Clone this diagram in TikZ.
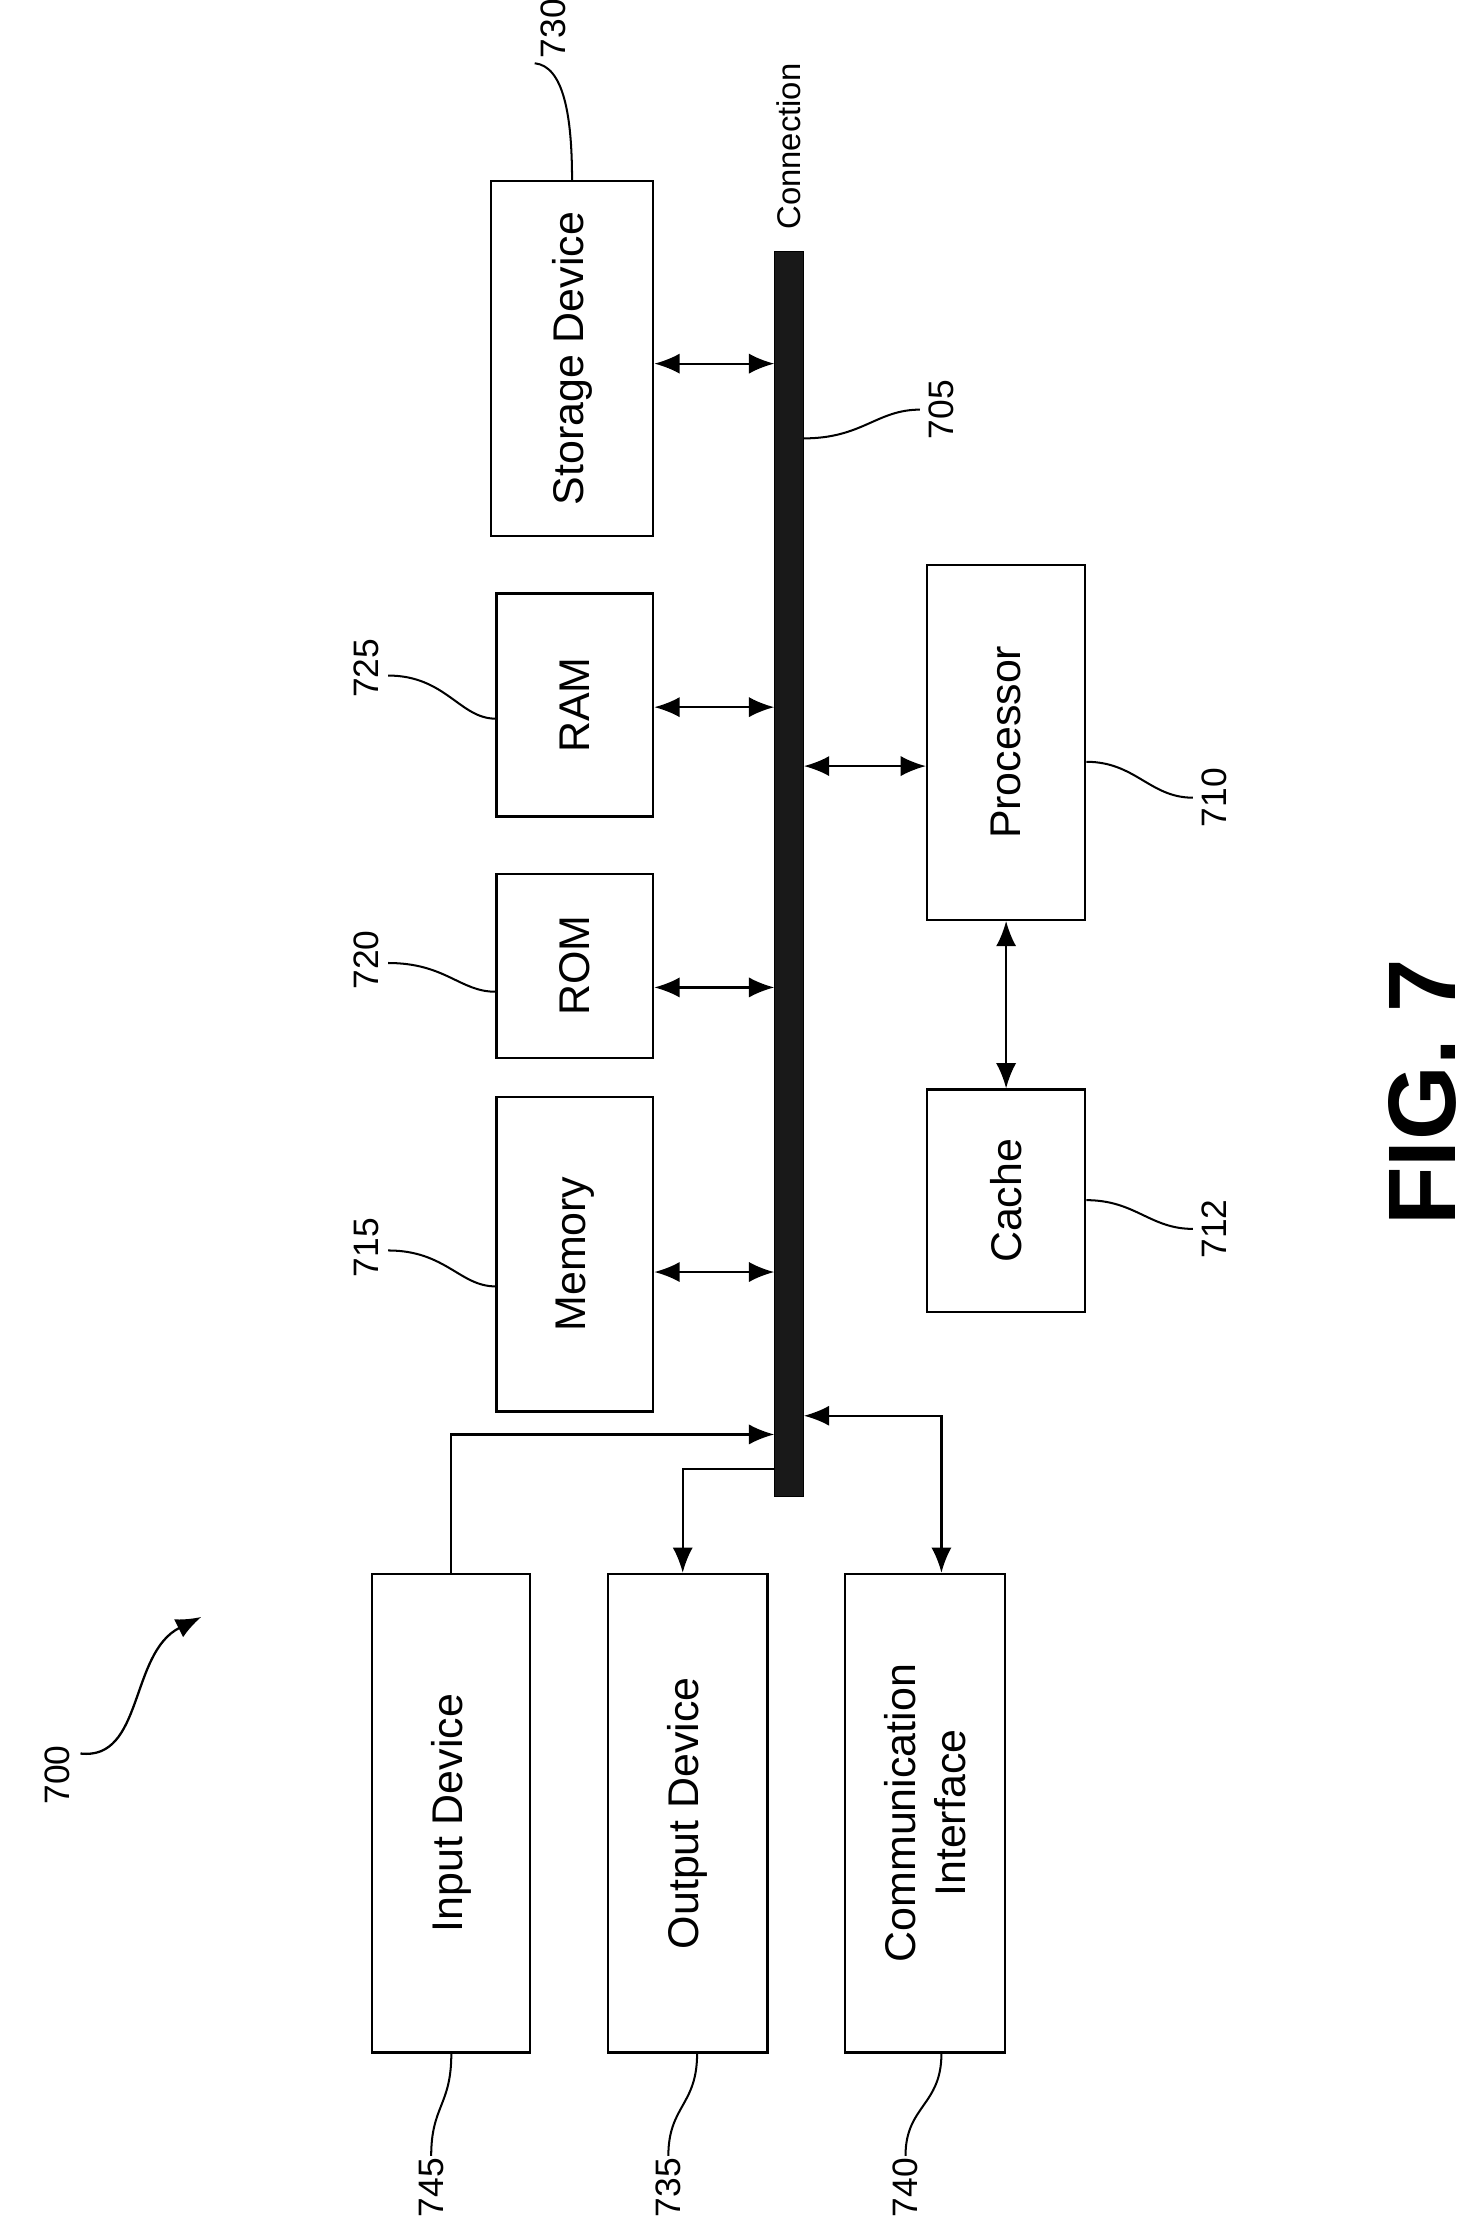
\documentclass[tikz,border=0pt]{standalone}
\usepackage{fontspec}
\setmainfont{Liberation Sans}
\usetikzlibrary{arrows.meta,positioning,calc}
\tikzset{
  box/.style={rectangle, draw, line width=0.9pt, rotate=90, font=\fontsize{17}{20}\selectfont, align=center, inner sep=2pt},
  num/.style={rotate=90, font=\fontsize{14}{16}\selectfont},
  arr/.style={line width=0.9pt, {Latex[length=10pt,width=8pt]}-{Latex[length=10pt,width=8pt]}},
  one/.style={line width=0.9pt, -{Latex[length=10pt,width=8pt]}},
  lead/.style={line width=0.8pt}
}
\begin{document}
\begin{tikzpicture}[x=0.02cm, y=-0.02cm]
    \useasboundingbox (0,0) rectangle (1024,1555);

    % Bus
    \node[rectangle, draw, fill=black!90, minimum width=0.4cm, minimum height=17.32cm, inner sep=0pt] (bus) at (549,608) {};
    \node[num, font=\fontsize{13}{15}\selectfont, anchor=west] (conn) at (549,166) {Connection};

    % Boxes
    \node[box, minimum width=4.94cm, minimum height=2.26cm] (stor) at (398,249.5) {Storage Device};
    \node[box, minimum width=3.1cm, minimum height=2.18cm] (ram) at (400,490.5) {RAM};
    \node[box, minimum width=2.56cm, minimum height=2.18cm] (rom) at (400,672) {ROM};
    \node[box, minimum width=4.38cm, minimum height=2.18cm] (mem) at (400,872.5) {Memory};
    \node[box, minimum width=4.94cm, minimum height=2.2cm] (proc) at (700,516.5) {Processor};
    \node[box, minimum width=3.1cm, minimum height=2.2cm] (cache) at (700,835.5) {Cache};
    \node[box, minimum width=6.66cm, minimum height=2.2cm] (inp) at (314,1261.5) {Input Device};
    \node[box, minimum width=6.66cm, minimum height=2.22cm] (outp) at (478.5,1261.5) {Output Device};
    \node[box, minimum width=6.66cm, minimum height=2.22cm] (comm) at (643.5,1261.5) {Communication\\Interface};

    % Connectors
    \draw[arr] (stor.south |- 0,253) -- (bus.west |- 0,253);
    \draw[arr] (ram.south |- 0,492) -- (bus.west |- 0,492);
    \draw[arr] (rom.south |- 0,687) -- (bus.west |- 0,687);
    \draw[arr] (mem.south |- 0,885) -- (bus.west |- 0,885);
    \draw[arr] (bus.east |- 0,533) -- (proc.north |- 0,533);
    \draw[arr] (proc.west) -- (cache.east);
    \draw[one] (inp.east) |- (bus.west |- 0,998);
    \draw[one] (bus.west |- 0,1022) -| (outp.east -| 475,0);
    \draw[arr] (comm.east -| 655,0) |- (bus.east |- 0,985);

    % Reference numerals
    \node[num] (n730) at (385,20) {730};
    \draw[lead] (372,44) .. controls (392,46) and (398,80) .. (stor.east -| 398,0);
    \node[num] (n705) at (655,285) {705};
    \draw[lead] (bus.east |- 0,305) .. controls (600,305) and (610,285) .. (640,285);
    \node[num] (n725) at (255,465) {725};
    \draw[lead] (270,470) .. controls (310,470) and (320,500) .. (ram.north |- 0,500);
    \node[num] (n720) at (255,668) {720};
    \draw[lead] (270,670) .. controls (310,670) and (320,690) .. (rom.north |- 0,690);
    \node[num] (n715) at (255,868) {715};
    \draw[lead] (270,870) .. controls (310,870) and (320,895) .. (mem.north |- 0,895);
    \node[num] (n710) at (845,555) {710};
    \draw[lead] (proc.south |- 0,530) .. controls (790,530) and (800,555) .. (830,555);
    \node[num] (n712) at (845,855) {712};
    \draw[lead] (cache.south |- 0,835) .. controls (790,835) and (800,855) .. (830,855);
    \node[num] (n745) at (300,1522) {745};
    \draw[lead] (300,1500) .. controls (300,1465) and (314,1465) .. (inp.west);
    \node[num] (n735) at (465,1522) {735};
    \draw[lead] (465,1500) .. controls (465,1465) and (485,1465) .. (outp.west -| 485,0);
    \node[num] (n740) at (630,1522) {740};
    \draw[lead] (630,1500) .. controls (630,1465) and (655,1465) .. (comm.west -| 655,0);
    \node[num] (n700) at (40,1235) {700};
    \coordinate (a700) at (140,1125);
    \draw[one] (56,1220) .. controls (100,1225) and (90,1150) .. (a700);

    % Figure label
    \node[rotate=90, font=\bfseries\fontsize{38}{42}\selectfont] (fig) at (990,760) {FIG. 7};

\end{tikzpicture}
\end{document}
